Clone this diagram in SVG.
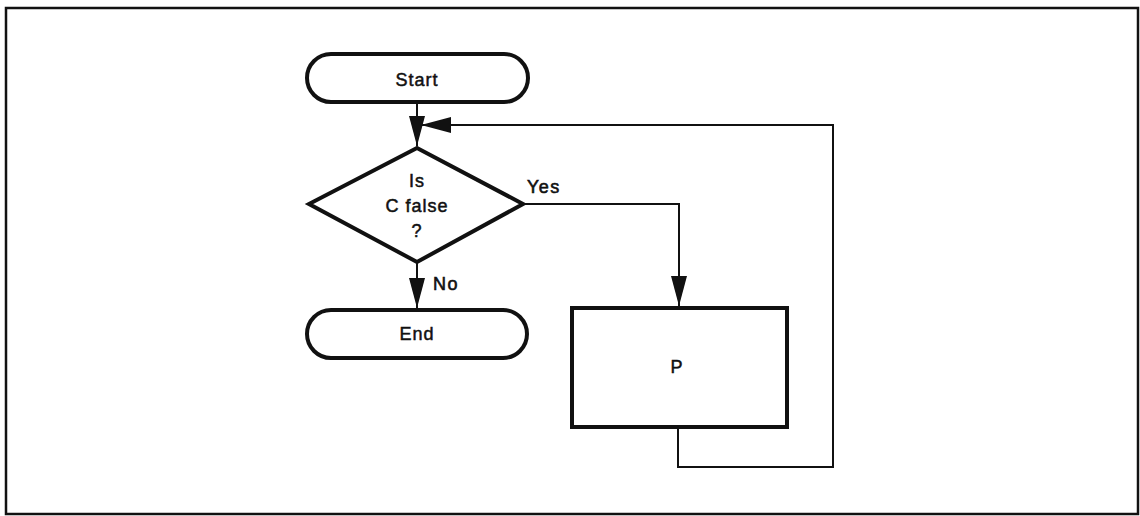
<svg xmlns="http://www.w3.org/2000/svg" width="1140" height="516" viewBox="0 0 1140 516">
<defs>
<style>
.shape{fill:#fff;stroke:#111;stroke-width:4}
.line{fill:none;stroke:#111;stroke-width:2}
.t{font-family:"Liberation Sans",Arial,sans-serif;font-size:18px;letter-spacing:1px;fill:#111;stroke:#111;stroke-width:0.5;text-anchor:middle}
.lbl{font-family:"Liberation Sans",Arial,sans-serif;font-size:18px;letter-spacing:1.5px;fill:#111;stroke:#111;stroke-width:0.6}
</style>
<marker id="ahL" viewBox="0 0 30 16" refX="30" refY="8" markerWidth="30" markerHeight="16" markerUnits="userSpaceOnUse" orient="auto">
<path d="M0,0 L30,8 L0,16 z" fill="#111"/>
</marker>
</defs>
<rect x="0" y="0" width="1140" height="516" fill="#fff"/>
<rect x="6" y="8" width="1132" height="506" fill="none" stroke="#111" stroke-width="2.5"/>
<g id="connectors">
<line class="line" x1="417" y1="102" x2="417" y2="146" marker-end="url(#ahL)"/>
<polyline class="line" points="678,427 678,467 833,467 833,125 421,125" marker-end="url(#ahL)"/>
<polyline class="line" points="523,204 679,204 679,306" marker-end="url(#ahL)"/>
<line class="line" x1="417" y1="262" x2="417" y2="308" marker-end="url(#ahL)"/>
<text class="lbl" x="527" y="193">Yes</text>
<text class="lbl" x="433" y="290">No</text>
</g>
<g id="start">
<rect class="shape" x="307" y="54" width="221" height="48" rx="24"/>
<text class="t" x="417" y="86">Start</text>
</g>
<g id="decision">
<polygon class="shape" points="417,148 523,204 417,262 309,204"/>
<text class="t" x="417" y="187">Is</text>
<text class="t" x="417" y="212">C  false</text>
<text class="t" x="417" y="237">?</text>
</g>
<g id="end">
<rect class="shape" x="307" y="310" width="220" height="48" rx="24"/>
<text class="t" x="417" y="340">End</text>
</g>
<g id="process">
<rect class="shape" x="572" y="308" width="215" height="119"/>
<text class="t" x="677" y="373">P</text>
</g>
</svg>
